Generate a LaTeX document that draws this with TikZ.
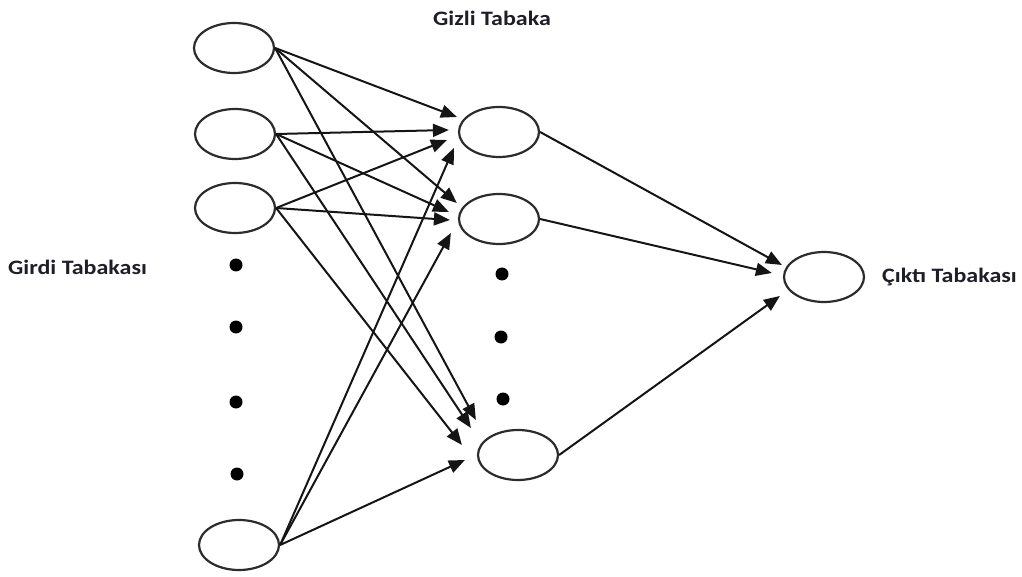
\documentclass[tikz,border=0pt]{standalone}
\usepackage{fontspec}
\setmainfont{Carlito}
\usetikzlibrary{arrows.meta,shapes.geometric}
\definecolor{ink}{HTML}{151515}
\definecolor{txt}{HTML}{1E1E28}
\begin{document}
\begin{tikzpicture}[x=1pt,y=-1pt,
  neuron/.style={draw=ink!90,line width=2.2pt,ellipse,minimum width=80pt,minimum height=50pt,inner sep=0pt},
  blob/.style={circle,fill=black,minimum size=13pt,inner sep=0pt},
  conn/.style={draw=ink,line width=2pt,-{Triangle[length=16pt,width=13pt]}},
  lbl/.style={text=txt,font=\fontsize{20.5}{24}\selectfont\bfseries,inner sep=0pt}]
\useasboundingbox (0,0) rectangle (1022,577);
% input layer
\node[neuron] (I1) at (234,48) {};
\node[neuron] (I2) at (235,134) {};
\node[neuron] (I3) at (235,208) {};
\node[neuron] (I4) at (239,545) {};
\node[blob] (a1) at (236,265) {};
\node[blob] (a2) at (236,327) {};
\node[blob] (a3) at (236,402) {};
\node[blob] (a4) at (237,474) {};
% hidden layer
\node[neuron] (H1) at (499,132) {};
\node[neuron] (H2) at (499,219) {};
\node[neuron] (H3) at (518,455) {};
\node[blob] (b1) at (502,274) {};
\node[blob] (b2) at (501,337) {};
\node[blob] (b3) at (503,399) {};
% output
\node[neuron] (O) at (824,277) {};
% labels
\node[lbl,anchor=base west] (tin) at (8,274) {\scalebox{1.17}[1]{Girdi Tabakası}};
\node[lbl,anchor=base west] (thid) at (433,26) {\scalebox{1.17}[1]{Gizli Tabaka}};
\node[lbl,anchor=base west] (tout) at (882,282) {\scalebox{1.17}[1]{Çıktı Tabakası}};
% input -> hidden
\draw[conn] (I1.east) -- ([shift={(-1,-15)}]H1.west);
\draw[conn] (I2.east) -- ([shift={(-9,-2)}]H1.west);
\draw[conn] (I3.east) -- ([shift={(-11,8)}]H1.west);
\draw[conn] (I4.east) -- ([shift={(-4,16)}]H1.west);
\draw[conn] (I1.east) -- ([shift={(-1,-16)}]H2.west);
\draw[conn] (I2.east) -- ([shift={(-9,-7)}]H2.west);
\draw[conn] (I3.east) -- ([shift={(-8,1)}]H2.west);
\draw[conn] (I4.east) -- ([shift={(-7,14)}]H2.west);
\draw[conn] (I1.east) -- ([shift={(-1,-35)}]H3.west);
\draw[conn] (I2.east) -- ([shift={(-6,-27)}]H3.west);
\draw[conn] (I3.east) -- ([shift={(-15,-10)}]H3.west);
\draw[conn] (I4.east) -- ([shift={(-12,5)}]H3.west);
% hidden -> output
\draw[conn] (H1.east) -- ([shift={(-1,-12)}]O.west);
\draw[conn] (H2.east) -- ([shift={(-11,-4)}]O.west);
\draw[conn] (H3.east) -- ([shift={(-3,19)}]O.west);
\end{tikzpicture}
\end{document}
